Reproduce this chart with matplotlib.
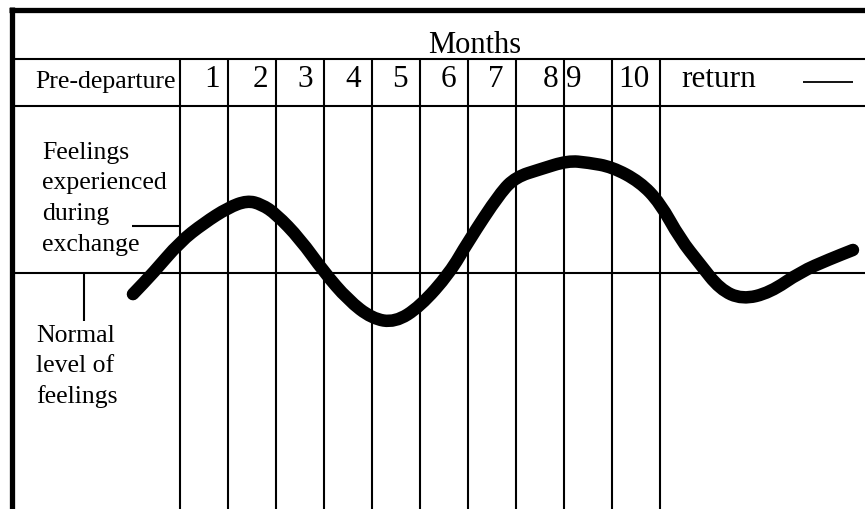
import matplotlib
matplotlib.use("Agg")
import matplotlib.pyplot as plt
from matplotlib.path import Path
from matplotlib.patches import PathPatch

# ---- data ----
header_title = "Months"
pre_label = "Pre-departure"
month_labels = ["1", "2", "3", "4", "5", "6", "7", "8", "9", "10"]
return_label = "return"
feel_label_lines = ["Feelings", "experienced", "during", "exchange"]
normal_label_lines = ["Normal", "level of", "feelings"]

# curve: x in months (0 = departure), y = feeling level (0 = normal)
curve_months = [-0.98, -0.56, 0.0, 0.5, 1.0, 1.4, 1.7, 2.0, 2.5, 3.0, 3.5, 4.0,
                4.48, 5.0, 5.62, 6.0, 6.67, 7.0, 7.5, 8.08, 8.5, 9.0, 9.58,
                10.0, 10.42, 10.83, 11.25, 11.71, 12.29, 12.92, 13.54, 14.02]
curve_feel = [-0.44, 0.0, 0.65, 1.04, 1.36, 1.51, 1.43, 1.23, 0.71, 0.02, -0.56,
              -0.95, -1.03, -0.70, 0.0, 0.65, 1.67, 2.0, 2.16, 2.34, 2.30, 2.21,
              1.90, 1.46, 0.71, 0.19, -0.34, -0.55, -0.41, 0.02, 0.29, 0.48]

n_months = len(month_labels)

# ---- layout helpers (pixel -> data units) ----
PX = 48.0
def X(px):
    return (px - 180) / PX
def Y(py):
    return (274 - py) / PX

W, H = 865, 510
fig = plt.figure(figsize=(W / 100, H / 100), dpi=100)
ax = fig.add_axes([0, 0, 1, 1])
ax.set_xlim(X(0), X(W))
ax.set_ylim(Y(H), Y(0))
ax.axis("off")

serif = "Liberation Serif"
lw_grid = 1.5

# outer thick border (top and left)
ax.plot([X(9), X(W)], [Y(10.5), Y(10.5)], color="black", lw=3.8, solid_capstyle="butt")
ax.plot([X(11.5), X(11.5)], [Y(8), Y(H)], color="black", lw=3.8, solid_capstyle="butt")

# header horizontal lines
for py in (60, 107):
    ax.plot([X(11), X(W)], [Y(py), Y(py)], color="black", lw=lw_grid, solid_capstyle="butt")
# normal level line
ax.plot([X(11), X(W)], [0, 0], color="black", lw=lw_grid, solid_capstyle="butt")

# month boundaries
for k in range(n_months + 1):
    ax.plot([k, k], [Y(60), Y(H)], color="black", lw=lw_grid, solid_capstyle="butt")

# header text
ax.text(X(475), Y(53), header_title, family=serif, fontsize=22, ha="center", va="baseline")
ax.text(X(106), Y(88), pre_label, family=serif, fontsize=18.5, ha="center", va="baseline")
label_centers = [0.67, 1.67, 2.60, 3.61, 4.58, 5.59, 6.57, 7.71, 8.20, 9.46]
for lab, c in zip(month_labels, label_centers):
    ax.text(c, Y(87), lab, family=serif, fontsize=22.5, ha="center", va="baseline")
ax.text(X(718.5), Y(87), return_label, family=serif, fontsize=22.5, ha="center", va="baseline")
ax.plot([X(803), X(853)], [Y(83), Y(83)], color="black", lw=1.3, solid_capstyle="butt")

# left labels
for i, line in enumerate(feel_label_lines):
    ax.text(X(42), Y(159 + 30.5 * i), line, family=serif, fontsize=18.5,
            ha="left", va="baseline")
for i, line in enumerate(normal_label_lines):
    ax.text(X(36), Y(342 + 30.5 * i), line, family=serif, fontsize=18.5,
            ha="left", va="baseline")

# pointer lines
ax.plot([X(132), 0], [Y(227), Y(227)], color="black", lw=lw_grid, solid_capstyle="butt")
ax.plot([X(84), X(84)], [0, Y(322)], color="black", lw=lw_grid, solid_capstyle="butt")

# feelings curve: smooth quadratic Bezier path through the read points
pts = list(zip(curve_months, curve_feel))
verts = [pts[0]]
codes = [Path.MOVETO]
mids = [((pts[i][0] + pts[i + 1][0]) / 2, (pts[i][1] + pts[i + 1][1]) / 2)
        for i in range(len(pts) - 1)]
verts.append(mids[0]); codes.append(Path.LINETO)
for i in range(1, len(pts) - 1):
    verts += [pts[i], mids[i]]
    codes += [Path.CURVE3, Path.CURVE3]
verts.append(pts[-1]); codes.append(Path.LINETO)
patch = PathPatch(Path(verts, codes), facecolor="none", edgecolor="black", lw=9,
                  capstyle="round", joinstyle="round", zorder=5)
ax.add_patch(patch)

fig.savefig("out.png", dpi=100)
